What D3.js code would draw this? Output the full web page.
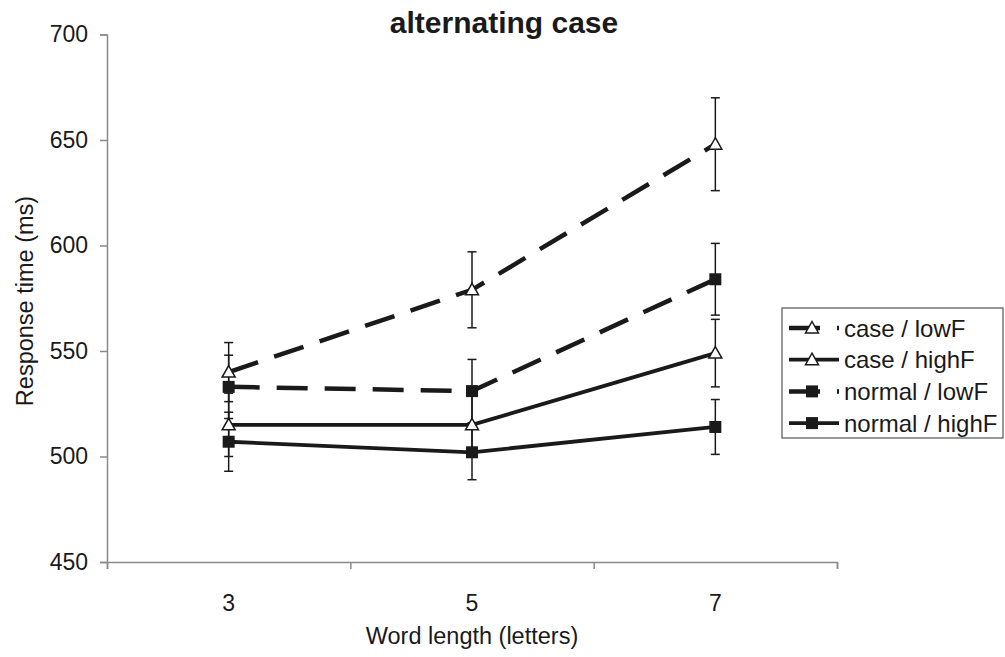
<!DOCTYPE html>
<html>
<head>
<meta charset="utf-8">
<script src="https://cdn.jsdelivr.net/npm/d3@7"></script>
<style>
  body { margin: 0; background: #fff; }
  text { font-family: "Liberation Sans", Arial, sans-serif; fill: #1a1a1a; }
</style>
</head>
<body>
<svg id="chart" width="1005" height="657"></svg>
<script>
// values
const lengths = ["3", "5", "7"];
const seriesNames = ["case / lowF", "case / highF", "normal / lowF", "normal / highF"];
const caseLowF = [540, 579, 648];
const caseHighF = [515, 515, 549];
const normalLowF = [533, 531, 584];
const normalHighF = [507, 502, 514];
const caseLowFErr = [14, 18, 22];
const caseHighFErr = [15, 14, 16];
const normalLowFErr = [15, 15, 17];
const normalHighFErr = [14, 13, 13];
const yTicks = [450, 500, 550, 600, 650, 700];

const series = [
  { name: seriesNames[0], values: caseLowF, err: caseLowFErr, dashed: true, marker: "tri" },
  { name: seriesNames[1], values: caseHighF, err: caseHighFErr, dashed: false, marker: "tri" },
  { name: seriesNames[2], values: normalLowF, err: normalLowFErr, dashed: true, marker: "sq" },
  { name: seriesNames[3], values: normalHighF, err: normalHighFErr, dashed: false, marker: "sq" }
];

const svg = d3.select("#chart");
const plotL = 107, plotR = 837, plotT = 34.5, plotB = 562;

const x = d3.scaleBand().domain(lengths).range([plotL, plotR]);
const xEdge = d3.scaleLinear().domain([0, 3]).range([plotL, plotR]);
const y = d3.scaleLinear().domain([450, 700]).range([plotB, plotT]);
const cx = d => x(d) + x.bandwidth() / 2;

// y axis
const yAxis = svg.append("g")
  .attr("transform", `translate(${plotL},0)`)
  .call(d3.axisLeft(y).tickValues(yTicks).tickSize(7).tickPadding(12));
yAxis.selectAll("text").style("font-size", "23px");

// x axis: tick marks sit between categories, labels centred in the bands
const xAxis = svg.append("g")
  .attr("transform", `translate(0,${plotB})`)
  .call(d3.axisBottom(xEdge).tickValues([0, 1, 2, 3]).tickSize(7).tickFormat(""));
const xLab = svg.append("g")
  .attr("transform", `translate(0,${plotB})`)
  .call(d3.axisBottom(x).tickSize(0).tickPadding(33));
xLab.select(".domain").remove();
xLab.selectAll("text").style("font-size", "23px");

svg.selectAll(".domain, .tick line").attr("stroke", "#8a8a8a").attr("stroke-width", 1.5);
svg.selectAll(".tick text").attr("fill", "#1a1a1a");

// titles
svg.append("text")
  .attr("x", 504).attr("y", 33)
  .attr("text-anchor", "middle")
  .style("font-size", "30px").style("font-weight", "bold")
  .text("alternating case");

svg.append("text")
  .attr("x", (plotL + plotR) / 2).attr("y", 644)
  .attr("text-anchor", "middle")
  .style("font-size", "23.5px")
  .text("Word length (letters)");

svg.append("text")
  .attr("transform", "translate(33,301) rotate(-90)")
  .attr("text-anchor", "middle")
  .style("font-size", "23.5px")
  .text("Response time (ms)");

// error bars
const plot = svg.append("g");
series.forEach(s => {
  const g = plot.append("g");
  lengths.forEach((l, i) => {
    const hi = y(s.values[i] + s.err[i]), lo = y(s.values[i] - s.err[i]);
    g.append("line").attr("x1", cx(l)).attr("x2", cx(l)).attr("y1", hi).attr("y2", lo)
      .attr("stroke", "#1a1a1a").attr("stroke-width", 1.5);
    [hi, lo].forEach(v => g.append("line")
      .attr("x1", cx(l) - 4.5).attr("x2", cx(l) + 4.5).attr("y1", v).attr("y2", v)
      .attr("stroke", "#1a1a1a").attr("stroke-width", 1.5));
  });
});

// lines
const line = d3.line().x((d, i) => cx(lengths[i])).y(d => y(d));
series.forEach(s => {
  plot.append("path")
    .datum(s.values)
    .attr("d", line)
    .attr("fill", "none")
    .attr("stroke", "#1a1a1a")
    .attr("stroke-width", s.dashed ? 4.5 : 3.8)
    .attr("stroke-dasharray", s.dashed ? "31,17" : null);
});

const triPath = "M0,-6.5L6.5,5L-6.5,5Z";
function drawMarker(g, type, px, py) {
  if (type === "tri") {
    g.append("path").attr("d", triPath)
      .attr("transform", `translate(${px},${py})`)
      .attr("fill", "#fff").attr("stroke", "#1a1a1a").attr("stroke-width", 1.5);
  } else {
    g.append("rect").attr("x", px - 6).attr("y", py - 6)
      .attr("width", 12).attr("height", 12).attr("fill", "#1a1a1a");
  }
}

// markers
series.forEach(s => {
  s.values.forEach((v, i) => drawMarker(plot, s.marker, cx(lengths[i]), y(v)));
});

// legend
const legend = svg.append("g");
legend.append("rect")
  .attr("x", 782).attr("y", 308).attr("width", 221).attr("height", 130)
  .attr("fill", "#fff").attr("stroke", "#555").attr("stroke-width", 1.2);
series.forEach((s, i) => {
  const ly = 328 + i * 31.7;
  legend.append("line")
    .attr("x1", 789).attr("x2", 839).attr("y1", ly).attr("y2", ly)
    .attr("stroke", "#1a1a1a").attr("stroke-width", s.dashed ? 4.5 : 3.8)
    .attr("stroke-dasharray", s.dashed ? "31,17" : null);
  drawMarker(legend, s.marker, 812, ly);
  legend.append("text")
    .attr("x", 844).attr("y", ly).attr("dy", "0.36em")
    .style("font-size", "24px")
    .text(s.name);
});
</script>
</body>
</html>
